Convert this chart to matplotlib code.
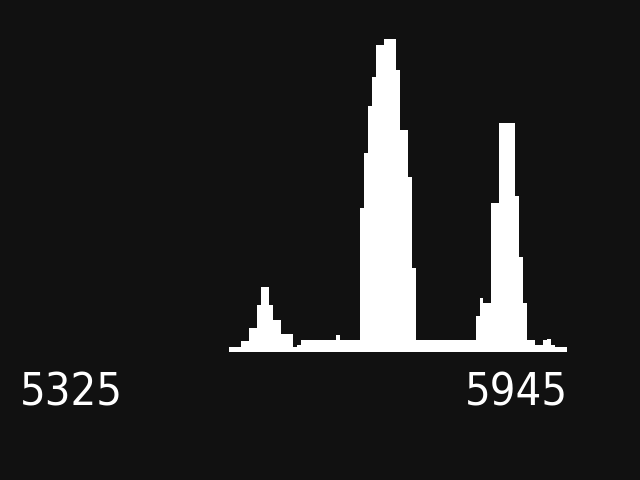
import matplotlib
matplotlib.use("Agg")
import matplotlib.pyplot as plt
import numpy as np

# Histogram counts per channel
counts = [5, 5, 5, 11, 11, 24, 24, 47, 65, 65,
          47, 32, 32, 18, 18, 18, 5, 7, 12, 12,
          12, 12, 12, 12, 12, 12, 12, 17, 12, 12,
          12, 12, 12, 144, 199, 246, 275, 307, 307, 313,
          313, 313, 282, 222, 222, 175, 84, 12, 12, 12,
          12, 12, 12, 12, 12, 12, 12, 12, 12, 12,
          12, 12, 36, 54, 49, 49, 149, 149, 229, 229,
          229, 229, 156, 95, 49, 12, 12, 7, 7, 12,
          13, 7, 5, 5, 5]
labels = ["5325", "5945"]

n = len(counts)
channels = np.arange(n)

fig = plt.figure(figsize=(6.4, 4.8), dpi=100, facecolor="#111111")
ax = fig.add_axes([0, 0, 1, 1])
ax.set_facecolor("#111111")
ax.bar(channels, counts, width=1.0, align="edge", color="white", linewidth=0)

scale = n / 338.0
ax.set_xlim(-229 * scale, n + (640 - 567) * scale)
ax.set_ylim(-128, 352)
ax.axis("off")

fig.text(20 / 640, (480 - 405) / 480, labels[0], color="white",
         fontsize=32.5, family="DejaVu Sans", fontstretch="condensed",
         ha="left", va="baseline")
fig.text(568 / 640, (480 - 405) / 480, labels[1], color="white",
         fontsize=32.5, family="DejaVu Sans", fontstretch="condensed",
         ha="right", va="baseline")

fig.savefig("out.png", dpi=100, facecolor=fig.get_facecolor())
